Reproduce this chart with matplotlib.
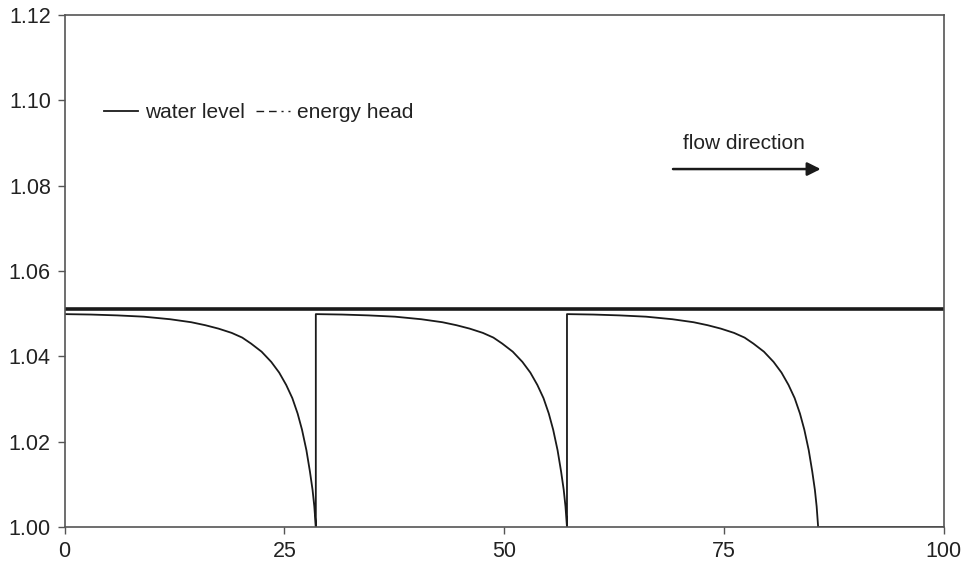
import matplotlib
matplotlib.use("Agg")
import matplotlib.pyplot as plt
from matplotlib.lines import Line2D

plt.rcParams['font.family'] = ['Liberation Sans', 'DejaVu Sans']

# water level along one reach (distance from reach start, level)
reach_dist = [0, 3, 6, 9, 12, 14.4, 16, 17.5, 19, 20.2, 21.2, 22.4, 23.5, 24.4,
              25.2, 25.9, 26.5, 27.0, 27.5, 27.9, 28.2, 28.4, 28.57]
reach_level = [1.0499, 1.0498, 1.0496, 1.0493, 1.0487, 1.0480, 1.0473, 1.0465,
               1.0455, 1.0444, 1.0430, 1.0411, 1.0387, 1.0362, 1.0333, 1.0302,
               1.0266, 1.0228, 1.0180, 1.0130, 1.0087, 1.0048, 1.0000]
reach_starts = [0, 28.57, 57.14]
tail_x = [85.71, 100]
tail_level = [1.00, 1.00]

energy_x = [0, 100]
energy_head = [1.0511, 1.0511]

xticks = [0, 25, 50, 75, 100]
yticks = [1.00, 1.02, 1.04, 1.06, 1.08, 1.10, 1.12]

# build the water level line: three identical reaches, then flat to the end
wl_x = []
wl_y = []
for s in reach_starts:
    wl_x += [s + d for d in reach_dist]
    wl_y += reach_level
wl_x += tail_x
wl_y += tail_level

fig = plt.figure(figsize=(9.65, 5.67), dpi=100)
ax = fig.add_axes([0.067, 0.0705, 0.911, 0.903])

ax.plot(energy_x, energy_head, color="#1a1a1a", lw=2.6)
ax.plot(wl_x, wl_y, color="#1a1a1a", lw=1.3)

ax.set_xlim(0, 100)
ax.set_ylim(1.00, 1.12)
ax.set_xticks(xticks)
ax.set_xticklabels([str(t) for t in xticks])
ax.set_yticks(yticks)
ax.set_yticklabels([f"{t:.2f}" for t in yticks])
ax.tick_params(direction="out", length=5, width=1, color="#555555",
               labelsize=15.5, labelcolor="#222222", pad=5)
for sp in ax.spines.values():
    sp.set_color("#555555")
    sp.set_linewidth(1.2)

# legend
handles = [Line2D([0], [0], color="#1a1a1a", lw=1.3),
           Line2D([0], [0], color="#1a1a1a", lw=1.0,
                  dashes=(5.5, 3.5, 5.5, 3.5, 1.5, 3.5))]
ax.legend(handles, ["water level", "energy head"], ncol=2, frameon=False,
          loc="center left", bbox_to_anchor=(0.033, 0.81), fontsize=15,
          handlelength=1.65, handletextpad=0.3, columnspacing=0.55,
          borderpad=0, labelcolor="#222222")

# flow direction arrow
ax.annotate("", xy=(86.0, 1.0839), xytext=(69.2, 1.0839),
            arrowprops=dict(arrowstyle="-|>", color="#1a1a1a", lw=1.8,
                            mutation_scale=20, shrinkA=0, shrinkB=0))
ax.text(70.3, 1.0900, "flow direction", fontsize=15, color="#222222",
        va="center", ha="left")

fig.savefig("out.png", dpi=100)
